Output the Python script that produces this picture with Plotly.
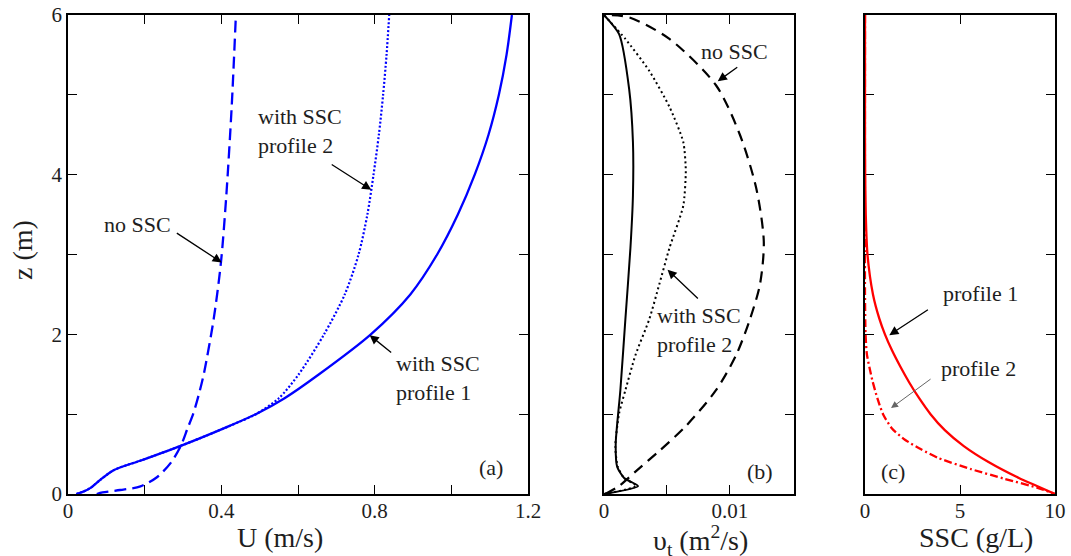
import plotly.graph_objects as go

# ---------------- data ----------------
# Panel (a): velocity profiles U (m/s) vs z (m)
z_a = [0.0, 0.03, 0.08, 0.18, 0.30, 0.42, 0.55, 0.70, 0.85, 1.0, 1.2, 1.5, 2.0, 2.5, 3.0, 3.5, 4.0, 4.5, 5.0, 5.5, 6.0]
u_ssc1 = [0.022, 0.04, 0.06, 0.085, 0.12, 0.19, 0.265, 0.345, 0.42, 0.49, 0.565, 0.655, 0.79, 0.893, 0.963, 1.017, 1.061, 1.097, 1.124, 1.144, 1.158]
u_ssc2 = [0.022, 0.04, 0.06, 0.085, 0.12, 0.19, 0.265, 0.345, 0.42, 0.49, 0.55, 0.602, 0.668, 0.722, 0.758, 0.781, 0.797, 0.811, 0.822, 0.831, 0.838]
z_a_noss = [0.0, 0.02, 0.05, 0.095, 0.21, 0.39, 0.6, 0.81, 1.01, 1.26, 1.52, 2.19, 2.9, 3.74, 4.85, 6.0]
u_noss = [0.075, 0.09, 0.136, 0.189, 0.232, 0.268, 0.294, 0.311, 0.327, 0.342, 0.355, 0.38, 0.399, 0.413, 0.427, 0.438]

# Panel (b): eddy viscosity nu_t (m2/s) vs z (m)
z_b_noss = [0.0, 0.10, 0.28, 0.54, 0.85, 1.3, 1.74, 2.19, 2.63, 3.16, 3.83, 4.5, 5.12, 5.7, 5.97, 6.0]
nu_noss = [0.0001, 0.0012, 0.0025, 0.0044, 0.0065, 0.0089, 0.0105, 0.0116, 0.0124, 0.0127, 0.0121, 0.0108, 0.0089, 0.0052, 0.002, 0.0001]
z_b_ssc2 = [0.0, 0.1, 0.2, 0.34, 0.59, 1.01, 1.3, 1.74, 2.19, 2.63, 3.08, 3.61, 4.05, 4.41, 4.85, 5.3, 5.7, 6.0]
nu_ssc2 = [0.0, 0.00257, 0.0016, 0.0011, 0.0009, 0.0012, 0.0017, 0.0025, 0.0036, 0.0044, 0.0052, 0.0063, 0.0065, 0.0063, 0.0052, 0.0036, 0.0017, 0.0]
z_b_ssc1 = [0.0, 0.1, 0.2, 0.34, 0.63, 1.3, 2.19, 3.08, 3.74, 4.41, 5.07, 5.76, 6.0]
nu_ssc1 = [0.0, 0.0027, 0.0016, 0.00105, 0.00093, 0.0013, 0.0017, 0.0021, 0.0023, 0.0023, 0.002, 0.0012, 0.0]

# Panel (c): SSC (g/L) vs z (m)
z_c1 = [6.0, 4.5, 4.0, 3.5, 3.0, 2.5, 2.2, 2.0, 1.8, 1.6, 1.4, 1.2, 1.0, 0.8, 0.6, 0.4, 0.2, 0.1, 0.0]
ssc1 = [0.0, 0.0, 0.01, 0.04, 0.13, 0.42, 0.75, 1.05, 1.42, 1.85, 2.32, 2.85, 3.45, 4.2, 5.2, 6.5, 8.1, 9.05, 10.0]
z_c2 = [6.0, 2.5, 2.0, 1.75, 1.43, 1.2, 1.0, 0.82, 0.68, 0.56, 0.45, 0.31, 0.19, 0.08, 0.0]
ssc2 = [0.0, 0.0, 0.03, 0.1, 0.38, 0.65, 0.95, 1.42, 2.1, 2.95, 3.87, 5.6, 7.35, 9.05, 10.0]

# tick labels
a_xticks = [0, 0.2, 0.4, 0.6, 0.8, 1.0, 1.2]
a_xtext = ["0", "", "0.4", "", "0.8", "", "1.2"]
z_ticks = [0, 1, 2, 3, 4, 5, 6]
z_text = ["0", "", "2", "", "4", "", "6"]
b_xticks = [0, 0.005, 0.01]
b_xtext = ["0", "", "0.01"]
c_xticks = [0, 5, 10]
c_xtext = ["0", "5", "10"]

# ---------------- figure ----------------
W, H = 1071, 556
FONT = "'Liberation Serif', 'Times New Roman', Times, serif"
TXT = "#1e1e1e"
BLUE = "#0000ff"
RED = "#ff0000"

fig = go.Figure()


def line(x, y, xa, ya, color, width, dash="solid", smooth=0.8):
    fig.add_trace(go.Scatter(x=x, y=y, mode="lines", xaxis=xa, yaxis=ya,
                             line=dict(color=color, width=width, dash=dash, shape="spline", smoothing=smooth)))


line(u_noss, z_a_noss, "x", "y", BLUE, 2.3, "12px,6px")
line(u_ssc2, z_a, "x", "y", BLUE, 2.2, "2px,2px")
line(u_ssc1, z_a, "x", "y", BLUE, 2.3)

line(nu_noss, z_b_noss, "x2", "y2", "black", 2.2, "11px,7px")
line(nu_ssc2, z_b_ssc2, "x2", "y2", "black", 2.0, "2px,3px", 0.6)
line(nu_ssc1, z_b_ssc1, "x2", "y2", "black", 2.0, "solid", 0.6)

line(ssc2, z_c2, "x3", "y3", RED, 2.3, "8px,3px,2px,3px", 0.6)
line(ssc1, z_c1, "x3", "y3", RED, 2.3, "solid", 0.6)


def px_x(p):
    return p / W


def px_y(p):
    return 1 - p / H


ydom = [px_y(494), px_y(15)]
common = dict(showline=True, linecolor="black", linewidth=1.5, mirror="ticks", ticks="inside",
              ticklen=9, tickwidth=1.2, tickcolor="black", showgrid=False, zeroline=False,
              automargin=False, tickfont=dict(family=FONT, size=21, color=TXT), fixedrange=True)
xcommon = dict(common, ticklabelstandoff=-3)

fig.update_layout(
    width=W, height=H, autosize=False, margin=dict(l=0, r=0, t=0, b=0, pad=0),
    paper_bgcolor="white", plot_bgcolor="white", showlegend=False,
    font=dict(family=FONT, color=TXT),
    xaxis=dict(domain=[px_x(68), px_x(528)], range=[0, 1.2], tickvals=a_xticks, ticktext=a_xtext, anchor="y", **xcommon),
    yaxis=dict(domain=ydom, range=[0, 6], tickvals=z_ticks, ticktext=z_text, anchor="x", **common),
    xaxis2=dict(domain=[px_x(604), px_x(794)], range=[0, 0.0151], tickvals=b_xticks, ticktext=b_xtext, anchor="y2", **xcommon),
    yaxis2=dict(domain=ydom, range=[0, 6], tickvals=z_ticks, showticklabels=False, anchor="x2", **common),
    xaxis3=dict(domain=[px_x(865), px_x(1055)], range=[0, 10], tickvals=c_xticks, ticktext=c_xtext, anchor="y3", layer="below traces", **xcommon),
    yaxis3=dict(domain=ydom, range=[0, 6], tickvals=z_ticks, showticklabels=False, anchor="x3", layer="below traces", **common),
)

ann = []
tfont = dict(family=FONT, size=22, color=TXT)


def label(text, x, y, xr, yr, xanchor="left"):
    ann.append(dict(text=text, x=x, y=y, xref=xr, yref=yr, showarrow=False, xanchor=xanchor,
                    yanchor="middle", align="left", font=tfont))


def arrow(hx, hy, tx, ty, xr, yr, color="black", w=1.3):
    ann.append(dict(text="", x=hx, y=hy, ax=tx, ay=ty, xref=xr, yref=yr, axref=xr, ayref=yr,
                    showarrow=True, arrowhead=2, arrowsize=1.4, arrowwidth=w, arrowcolor=color))


# panel a
label("with SSC<br>profile 2", 0.491, 4.545, "x", "y")
arrow(0.791, 3.81, 0.684, 4.14, "x", "y")
label("no SSC", 0.0896, 3.38, "x", "y")
arrow(0.401, 2.90, 0.28, 3.28, "x", "y")
label("with SSC<br>profile 1", 0.850, 1.458, "x", "y")
arrow(0.787, 1.99, 0.847, 1.756, "x", "y")
label("(a)", 1.104, 0.333, "x", "y", xanchor="center")
# panel b
label("no SSC", 0.00758, 5.54, "x2", "y2")
arrow(0.00904, 5.17, 0.01071, 5.36, "x2", "y2")
label("with SSC<br>profile 2", 0.00407, 2.06, "x2", "y2")
arrow(0.00505, 2.81, 0.00758, 2.43, "x2", "y2")
label("(b)", 0.01236, 0.284, "x2", "y2", xanchor="center")
# panel c
label("profile 1", 4.0, 2.51, "x3", "y3")
arrow(1.28, 1.99, 3.39, 2.32, "x3", "y3")
label("profile 2", 3.88, 1.573, "x3", "y3")
arrow(1.37, 1.076, 3.53, 1.453, "x3", "y3", color="#666666", w=1.0)
label("(c)", 1.46, 0.284, "x3", "y3", xanchor="center")

# axis titles
title_font = dict(family=FONT, size=28, color=TXT)
for text, x, y in [("U (m/s)", 280, 537), ("υ<sub>t</sub> (m<sup>2</sup>/s)", 700, 540), ("SSC (g/L)", 976, 537)]:
    ann.append(dict(text=text, x=px_x(x), y=px_y(y), xref="paper", yref="paper", showarrow=False,
                    xanchor="center", yanchor="middle", font=title_font))
ann.append(dict(text="z (m)", x=px_x(22), y=px_y(250), xref="paper", yref="paper", showarrow=False,
                xanchor="center", yanchor="middle", textangle=-90, font=title_font))

fig.update_layout(annotations=ann)
fig.write_html("out.html")
